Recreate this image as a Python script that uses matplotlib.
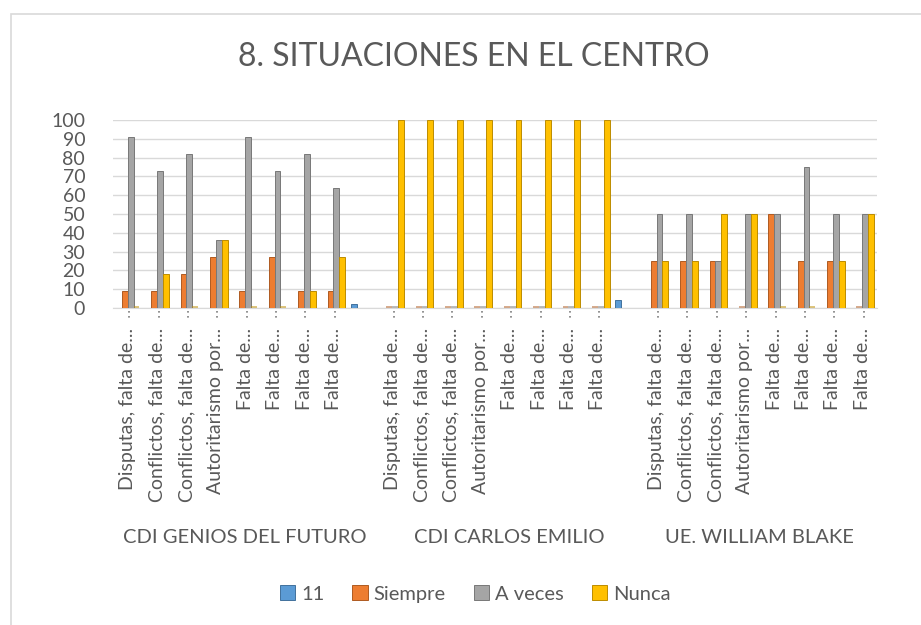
import numpy as np
import matplotlib.pyplot as plt
from matplotlib.patches import Rectangle
import matplotlib.transforms as mtransforms

plt.rcParams['font.family'] = ['Lato', 'DejaVu Sans']

# datos
grupos = ['CDI GENIOS DEL FUTURO', 'CDI CARLOS EMILIO', 'UE. WILLIAM BLAKE']
categorias = ['Disputas, falta de...', 'Conflictos, falta de...', 'Conflictos, falta de...',
              'Autoritarismo por...', 'Falta de...', 'Falta de...', 'Falta de...', 'Falta de...']
series = ['11', 'Siempre', 'A veces', 'Nunca']

# cada grupo: 8 categorias (+ una casilla vacia con la serie "11" en los dos primeros)
g1_11 = [0, 0, 0, 0, 0, 0, 0, 0, 2]
g1_siempre = [9, 9, 18, 27, 9, 27, 9, 9, 0]
g1_aveces = [91, 73, 82, 36, 91, 73, 82, 64, 0]
g1_nunca = [0, 18, 0, 36, 0, 0, 9, 27, 0]

g2_11 = [0, 0, 0, 0, 0, 0, 0, 0, 4]
g2_siempre = [0, 0, 0, 0, 0, 0, 0, 0, 0]
g2_aveces = [0, 0, 0, 0, 0, 0, 0, 0, 0]
g2_nunca = [100, 100, 100, 100, 100, 100, 100, 100, 0]

g3_11 = [0, 0, 0, 0, 0, 0, 0, 0]
g3_siempre = [25, 25, 25, 0, 50, 25, 25, 0]
g3_aveces = [50, 50, 25, 50, 50, 75, 50, 50]
g3_nunca = [25, 25, 50, 50, 0, 0, 25, 50]

colores = ['#5B9BD5', '#ED7D31', '#A5A5A5', '#FFC000']
bordes = ['#41719C', '#AE5A21', '#787878', '#BC8C00']
gris_texto = '#595959'

valores = [g1_11 + g2_11 + g3_11,
           g1_siempre + g2_siempre + g3_siempre,
           g1_aveces + g2_aveces + g3_aveces,
           g1_nunca + g2_nunca + g3_nunca]
etiquetas = categorias + [''] + categorias + [''] + categorias
n = len(etiquetas)
x = np.arange(n)

fig = plt.figure(figsize=(9.21, 6.25), dpi=100)
ax = fig.add_axes([113 / 921, 1 - 308 / 625, (877 - 113) / 921, (308 - 120) / 625])

w = 0.2
for i, s in enumerate(series):
    v = np.array(valores[i])
    # las barras de la serie "11" solo existen en las casillas vacias
    mask = v > 0 if i == 0 else np.array([et != '' for et in etiquetas])
    ax.bar(x[mask] + (i - 1.5) * w, v[mask], w, color=colores[i],
           edgecolor=bordes[i], linewidth=0.7, label=s, zorder=3)
    # los valores cero se ven como una raya fina
    for xi in x[mask & (v == 0)]:
        ax.plot([xi + (i - 2) * w, xi + (i - 1) * w], [0.4, 0.4], color=bordes[i],
                linewidth=1.2, alpha=0.6, zorder=3, solid_capstyle='butt')

ax.set_xlim(-0.5, n - 0.5)
ax.set_ylim(0, 100)
ax.set_yticks(range(0, 101, 10))
ax.yaxis.grid(True, color='#d9d9d9', linewidth=1)
ax.set_axisbelow(True)
for sp in ['top', 'right', 'left']:
    ax.spines[sp].set_visible(False)
ax.spines['bottom'].set_color('#d9d9d9')
ax.tick_params(axis='y', length=0, labelsize=14, labelcolor=gris_texto, pad=20)
ax.set_xticks(x)
ax.set_xticklabels(etiquetas, rotation=90, fontsize=14, color=gris_texto, va='top')
ax.tick_params(axis='x', length=0, pad=14)

# marcas punteadas bajo cada categoria
trans = mtransforms.blended_transform_factory(ax.transData, ax.transAxes)
for xi, et in zip(x, etiquetas):
    if et:
        ax.plot([xi + 0.05, xi + 0.05], [-0.015, -0.07], transform=trans, clip_on=False,
                color='#7f7f7f', linestyle=(0, (1, 2)), linewidth=1.2)

# etiquetas de grupo
centros = [4, 13, 21.5]
for g, c in zip(grupos, centros):
    ax.text(c, -1.22, g, transform=trans, ha='center', va='center', fontsize=14.5, color=gris_texto)

fig.text(0.514, 1 - 57 / 625, '8. SITUACIONES EN EL CENTRO', ha='center', va='center',
         fontsize=23, color=gris_texto)

leg = fig.legend(loc='center', bbox_to_anchor=(0.516, 1 - 594 / 625), ncol=4, frameon=False,
                 fontsize=14.5, handlelength=0.75, handleheight=0.75, handletextpad=0.3,
                 columnspacing=1.4, labelcolor=gris_texto)

# marco del grafico
fig.patches.append(Rectangle((11 / 921, -0.1), 1.2, (625 - 14) / 625 + 0.1, transform=fig.transFigure,
                             fill=False, edgecolor='#d9d9d9', linewidth=1.2))

fig.savefig('out.png', dpi=100)
